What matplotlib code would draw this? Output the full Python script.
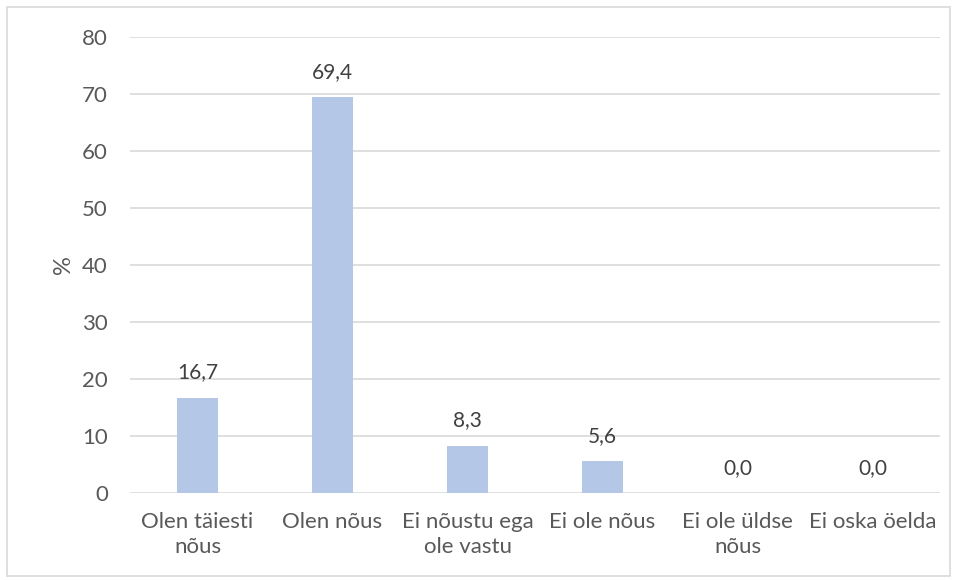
import matplotlib
matplotlib.use('Agg')
import matplotlib.pyplot as plt
from matplotlib.patches import Rectangle

categories = ['Olen täiesti\nnõus', 'Olen nõus', 'Ei nõustu ega\nole vastu',
              'Ei ole nõus', 'Ei ole üldse\nnõus', 'Ei oska öelda']
values = [16.7, 69.4, 8.3, 5.6, 0.0, 0.0]
yticks = [0, 10, 20, 30, 40, 50, 60, 70, 80]

plt.rcParams['font.family'] = ['Lato', 'DejaVu Sans']

fig = plt.figure(figsize=(9.57, 5.8), dpi=100)
ax = fig.add_axes([130 / 957, 1 - 493 / 580, 810 / 957, 456 / 580])

x = list(range(len(categories)))
bars = ax.bar(x, values, width=0.31, color='#B4C7E7', zorder=3)

for xi, v in zip(x, values):
    ax.annotate(('%.1f' % v).replace('.', ','), (xi, v), xytext=(0, 11),
                textcoords='offset points', ha='center', va='bottom',
                fontsize=15, color='#404040')

ax.set_xlim(-0.5, len(categories) - 0.5)
ax.set_ylim(0, 80)
ax.set_yticks(yticks)
ax.set_xticks(x)
ax.set_xticklabels(categories, fontsize=16, color='#595959', linespacing=1.3)
ax.tick_params(axis='y', labelsize=16, labelcolor='#595959', length=0, pad=16)
ax.tick_params(axis='x', length=0, pad=14)
ax.grid(axis='y', color='#D9D9D9', linewidth=1.2, zorder=0)
for s in ax.spines.values():
    s.set_visible(False)
ax.set_ylabel('%', fontsize=17, color='#595959', labelpad=6)

fig.patches.append(Rectangle((7 / 957, 4 / 580), 943 / 957, 569 / 580,
                             transform=fig.transFigure, fill=False,
                             edgecolor='#D9D9D9', linewidth=1.2))

fig.savefig('out.png', dpi=100)
